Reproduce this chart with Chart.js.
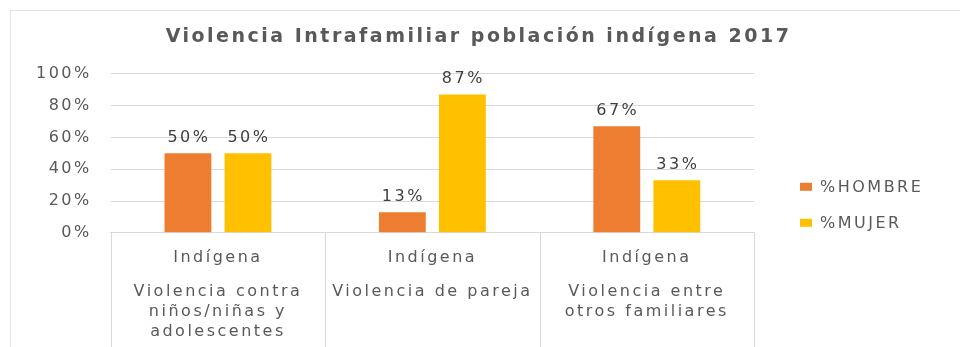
<!DOCTYPE html>
<html lang="es">
<head>
<meta charset="utf-8">
<title>Violencia Intrafamiliar población indígena 2017</title>
<script src="https://cdn.jsdelivr.net/npm/chart.js@4.4.1/dist/chart.umd.min.js"></script>
<style>
  html, body { margin: 0; padding: 0; background: #fff; overflow: hidden; }
  #frame { position: absolute; left: 10px; top: 10px; width: 1000px; height: 400px; border: 1px solid #e3e3e3; }
  #wrap { position: absolute; left: 0; top: 0; width: 960px; height: 347px; }
</style>
</head>
<body>
<div id="frame"></div>
<div id="wrap"><canvas id="myChart"></canvas></div>
<script>
'use strict';

// data
let groupLabels = ['Indígena', 'Indígena', 'Indígena'];
let categoryLabels = [
  ['Violencia contra', 'niños/niñas y', 'adolescentes'],
  ['Violencia de pareja'],
  ['Violencia entre', 'otros familiares']
];
let seriesNames = ['%HOMBRE', '%MUJER'];
let hombre = [50, 13, 67];
let mujer = [50, 87, 33];
let yTickValues = [0, 20, 40, 60, 80, 100];

let textColor = '#595959';
let lineColor = '#d9d9d9';
let font = '"DejaVu Sans", sans-serif';

// the reference text is drawn wide, so space the letters out a bit
let spacing = {
  id: 'spacing',
  beforeUpdate(chart) { chart.ctx.letterSpacing = '2.5px'; },
  beforeDraw(chart) { chart.ctx.letterSpacing = '2.5px'; }
};

// value labels above each bar
let valueLabels = {
  id: 'valueLabels',
  afterDatasetsDraw(chart) {
    let ctx = chart.ctx;
    ctx.save();
    ctx.font = '16px ' + font;
    ctx.fillStyle = '#404040';
    ctx.textAlign = 'center';
    ctx.textBaseline = 'alphabetic';
    chart.data.datasets.forEach((ds, i) => {
      chart.getDatasetMeta(i).data.forEach((bar, j) => {
        ctx.fillText(ds.data[j] + '%', bar.x + 1, bar.y - 11);
      });
    });
    ctx.restore();
  }
};

// vertical separators between the categories, below the axis line
let separators = {
  id: 'separators',
  afterDraw(chart) {
    let x = chart.scales.x;
    let ctx = chart.ctx;
    let edges = [x.left];
    for (let i = 0; i < x.ticks.length - 1; i++) {
      edges.push((x.getPixelForValue(i) + x.getPixelForValue(i + 1)) / 2);
    }
    edges.push(x.right);
    ctx.save();
    ctx.strokeStyle = lineColor;
    ctx.lineWidth = 1;
    edges.forEach(e => {
      let px = Math.round(e) + 0.5;
      ctx.beginPath();
      ctx.moveTo(px, chart.chartArea.bottom);
      ctx.lineTo(px, chart.height);
      ctx.stroke();
    });
    ctx.restore();
  }
};

// legend to the right of the plot
let sideLegend = {
  id: 'sideLegend',
  afterDraw(chart) {
    let ctx = chart.ctx;
    let area = chart.chartArea;
    ctx.save();
    ctx.font = '16px ' + font;
    ctx.textAlign = 'left';
    ctx.textBaseline = 'middle';
    chart.data.datasets.forEach((ds, i) => {
      let y = area.bottom - 46 + i * 36;
      ctx.fillStyle = ds.backgroundColor;
      ctx.fillRect(area.right + 46, y - 4, 12, 8);
      ctx.fillStyle = textColor;
      ctx.fillText(ds.label, area.right + 66, y + 1);
    });
    ctx.restore();
  }
};

let ctx = document.getElementById('myChart');

let myChart = new Chart(ctx, {
  type: 'bar',
  data: {
    labels: groupLabels,
    datasets: [{
      label: seriesNames[0],
      data: hombre,
      backgroundColor: '#ED7D31'
    }, {
      label: seriesNames[1],
      data: mujer,
      backgroundColor: '#FFC000'
    }]
  },
  options: {
    responsive: true,
    maintainAspectRatio: false,
    animation: false,
    categoryPercentage: 0.56,
    barPercentage: 0.78,
    layout: { padding: { left: 17, right: 20, top: 10, bottom: 5 } },
    plugins: {
      legend: { display: false },
      tooltip: { enabled: false },
      title: {
        display: true,
        text: 'Violencia Intrafamiliar población indígena 2017',
        color: textColor,
        font: { family: font, size: 19, weight: 'bold' },
        padding: { top: 16, bottom: 25 }
      }
    },
    scales: {
      x: {
        position: 'bottom',
        weight: 0,
        grid: { display: false, drawTicks: false },
        border: { display: true, color: lineColor },
        ticks: { color: textColor, padding: 15, font: { family: font, size: 16 } }
      },
      x2: {
        type: 'category',
        position: 'bottom',
        weight: 1,
        offset: true,
        labels: categoryLabels,
        grid: { display: false, drawTicks: false },
        border: { display: false },
        ticks: { color: textColor, padding: 0, font: { family: font, size: 16, lineHeight: '20px' } }
      },
      y: {
        min: 0,
        max: 100,
        afterBuildTicks(scale) { scale.ticks = yTickValues.map(v => ({ value: v })); },
        grid: { color: lineColor, drawTicks: false },
        border: { display: false },
        ticks: {
          color: textColor,
          padding: 19,
          font: { family: font, size: 16 },
          callback: v => v + '%'
        }
      },
      y2: {
        position: 'right',
        grid: { display: false, drawTicks: false },
        border: { display: false },
        ticks: { display: false },
        afterFit(scale) { scale.width = 186; }
      }
    }
  },
  plugins: [spacing, valueLabels, separators, sideLegend]
});
</script>
</body>
</html>
